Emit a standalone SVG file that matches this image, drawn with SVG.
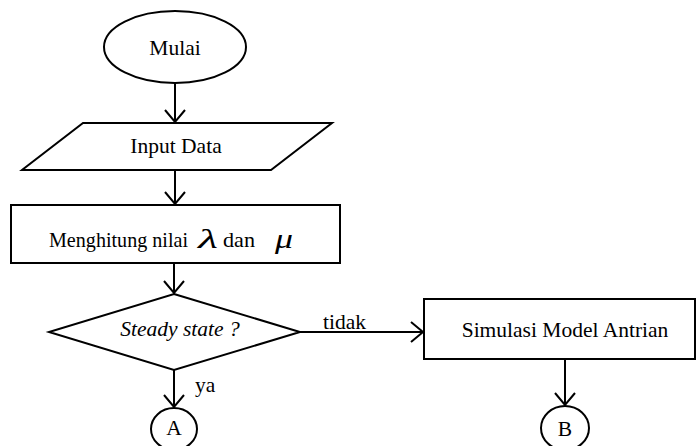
<svg xmlns="http://www.w3.org/2000/svg" width="697" height="446" viewBox="0 0 697 446">
<style>
.s{fill:#fff;stroke:#000;stroke-width:2}
.t{font-family:"Liberation Serif","Times New Roman",serif;font-size:21.5px;fill:#000}
.c{text-anchor:middle}
.m{font-style:italic;font-size:28px}
.l{fill:none;stroke:#000;stroke-width:2}
</style>
<defs>
<marker id="ah" markerUnits="userSpaceOnUse" viewBox="-14 -12 16 24" refX="0" refY="0" markerWidth="16" markerHeight="24" orient="auto">
<path d="M-12,-10 L0,0 L-12,10" fill="none" stroke="#000" stroke-width="2"/>
</marker>
</defs>
<rect width="697" height="446" fill="#fff"/>
<g id="connectors">
<line class="l" x1="175" y1="83" x2="175" y2="122" marker-end="url(#ah)"/>
<line class="l" x1="175" y1="170" x2="175" y2="204" marker-end="url(#ah)"/>
<line class="l" x1="174" y1="263" x2="174" y2="293" marker-end="url(#ah)"/>
<line class="l" x1="174" y1="370" x2="174" y2="407" marker-end="url(#ah)"/>
<line class="l" x1="300" y1="332" x2="423" y2="332" marker-end="url(#ah)"/>
<line class="l" x1="565" y1="359" x2="565" y2="405" marker-end="url(#ah)"/>
<text class="t" x="323" y="329">tidak</text>
<text class="t" x="195" y="392">ya</text>
</g>
<g id="mulai">
<ellipse class="s" cx="175" cy="47" rx="71" ry="36"/>
<text class="t c" x="175" y="55">Mulai</text>
</g>
<g id="input">
<polygon class="s" points="83,123 332,123 271,170 22,170"/>
<text class="t c" x="176" y="153">Input Data</text>
</g>
<g id="hitung">
<rect class="s" x="11" y="205" width="329" height="58"/>
<text class="t" x="49" y="247" textLength="139" lengthAdjust="spacingAndGlyphs">Menghitung nilai</text>
<text class="t m" x="198" y="248" textLength="20" lengthAdjust="spacingAndGlyphs">λ</text>
<text class="t" x="223" y="247" textLength="32" lengthAdjust="spacingAndGlyphs">dan</text>
<text class="t m" x="275" y="248" textLength="18" lengthAdjust="spacingAndGlyphs">μ</text>
</g>
<g id="steady">
<polygon class="s" points="174,294 300,332 174,370 49,332"/>
<text class="t c" x="180" y="336" font-style="italic">Steady state ?</text>
</g>
<g id="simulasi">
<rect class="s" x="424" y="299" width="271" height="60"/>
<text class="t c" x="565" y="337">Simulasi Model Antrian</text>
</g>
<g id="A">
<ellipse class="s" cx="174" cy="429" rx="23" ry="21"/>
<text class="t c" x="174" y="435">A</text>
</g>
<g id="B">
<ellipse class="s" cx="565" cy="428" rx="24" ry="22"/>
<text class="t c" x="565" y="436">B</text>
</g>
</svg>
